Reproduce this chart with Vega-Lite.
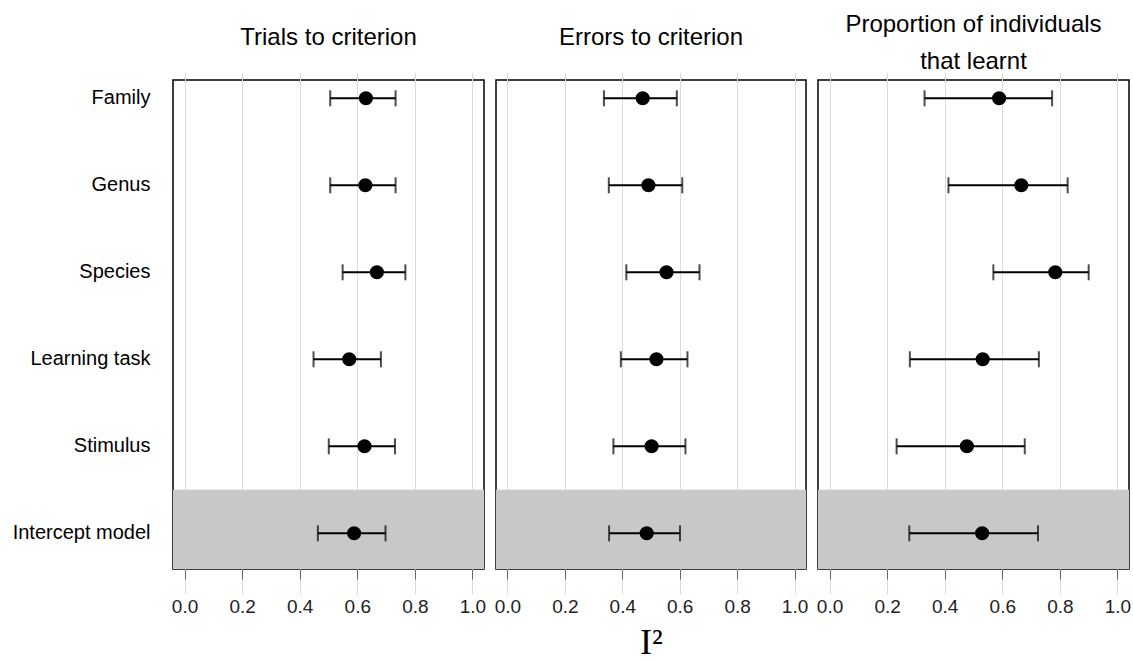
{
  "$schema": "https://vega.github.io/schema/vega-lite/v6.json",
  "padding": {"left": 11, "right": 0, "top": 12, "bottom": 0},
  "background": "white",
  "datasets": {
    "d": [
      {"panel": "T", "term": "Family", "est": 0.630, "lo": 0.506, "hi": 0.733},
      {"panel": "T", "term": "Genus", "est": 0.628, "lo": 0.506, "hi": 0.733},
      {"panel": "T", "term": "Species", "est": 0.668, "lo": 0.549, "hi": 0.767},
      {"panel": "T", "term": "Learning task", "est": 0.572, "lo": 0.448, "hi": 0.682},
      {"panel": "T", "term": "Stimulus", "est": 0.625, "lo": 0.501, "hi": 0.731},
      {"panel": "T", "term": "Intercept model", "est": 0.589, "lo": 0.463, "hi": 0.698},
      {"panel": "E", "term": "Family", "est": 0.471, "lo": 0.336, "hi": 0.590},
      {"panel": "E", "term": "Genus", "est": 0.491, "lo": 0.353, "hi": 0.609},
      {"panel": "E", "term": "Species", "est": 0.554, "lo": 0.414, "hi": 0.669},
      {"panel": "E", "term": "Learning task", "est": 0.519, "lo": 0.395, "hi": 0.627},
      {"panel": "E", "term": "Stimulus", "est": 0.502, "lo": 0.369, "hi": 0.620},
      {"panel": "E", "term": "Intercept model", "est": 0.485, "lo": 0.354, "hi": 0.601},
      {"panel": "P", "term": "Family", "est": 0.589, "lo": 0.330, "hi": 0.773},
      {"panel": "P", "term": "Genus", "est": 0.666, "lo": 0.413, "hi": 0.827},
      {"panel": "P", "term": "Species", "est": 0.784, "lo": 0.569, "hi": 0.900},
      {"panel": "P", "term": "Learning task", "est": 0.532, "lo": 0.279, "hi": 0.727},
      {"panel": "P", "term": "Stimulus", "est": 0.477, "lo": 0.233, "hi": 0.678},
      {"panel": "P", "term": "Intercept model", "est": 0.530, "lo": 0.277, "hi": 0.724}
    ]
  },
  "data": {"name": "d"},
  "spacing": 12,
  "bounds": "flush",
  "hconcat": [
    {
      "width": 311, "height": 489,
      "title": {"text": "Trials to criterion", "offset": 30},
      "transform": [{"filter": "datum.panel === 'T'"}],
      "encoding": {
        "y": {"field": "term", "type": "nominal", "sort": ["Family", "Genus", "Species", "Learning task", "Stimulus", "Intercept model"], "scale": {"type": "band", "range": [-25.2, 496.8], "paddingInner": 0, "paddingOuter": 0}, "axis": {"title": null}}
      },
      "layer": [
        {"transform": [{"filter": "datum.term === 'Intercept model'"}], "mark": {"type": "rect", "color": "#c8c8c8", "clip": true},
         "encoding": {"x": {"datum": -0.04, "type": "quantitative", "scale": {"domain": [-0.04, 1.04], "nice": false, "zero": false}, "axis": {"values": [0, 0.2, 0.4, 0.6, 0.8, 1], "format": ".1f", "title": null}}, "x2": {"datum": 1.04}}},
        {"mark": {"type": "rule", "color": "black", "strokeWidth": 2},
         "encoding": {"x": {"field": "lo", "type": "quantitative", "title": null}, "x2": {"field": "hi"}}},
        {"mark": {"type": "tick", "color": "black", "thickness": 2, "size": 16},
         "encoding": {"x": {"field": "lo", "type": "quantitative", "title": null}}},
        {"mark": {"type": "tick", "color": "black", "thickness": 2, "size": 16},
         "encoding": {"x": {"field": "hi", "type": "quantitative", "title": null}}},
        {"mark": {"type": "circle", "color": "black", "size": 200, "opacity": 1},
         "encoding": {"x": {"field": "est", "type": "quantitative", "title": null}}}
      ]
    },
    {
      "width": 310, "height": 489,
      "title": {"text": "Errors to criterion", "offset": 30},
      "transform": [{"filter": "datum.panel === 'E'"}],
      "encoding": {
        "y": {"field": "term", "type": "nominal", "sort": ["Family", "Genus", "Species", "Learning task", "Stimulus", "Intercept model"], "scale": {"type": "band", "range": [-25.2, 496.8], "paddingInner": 0, "paddingOuter": 0}, "axis": null}
      },
      "layer": [
        {"transform": [{"filter": "datum.term === 'Intercept model'"}], "mark": {"type": "rect", "color": "#c8c8c8", "clip": true},
         "encoding": {"x": {"datum": -0.04, "type": "quantitative", "scale": {"domain": [-0.04, 1.04], "nice": false, "zero": false}, "axis": {"values": [0, 0.2, 0.4, 0.6, 0.8, 1], "format": ".1f", "title": "I²"}}, "x2": {"datum": 1.04}}},
        {"mark": {"type": "rule", "color": "black", "strokeWidth": 2},
         "encoding": {"x": {"field": "lo", "type": "quantitative", "title": "I²"}, "x2": {"field": "hi"}}},
        {"mark": {"type": "tick", "color": "black", "thickness": 2, "size": 16},
         "encoding": {"x": {"field": "lo", "type": "quantitative", "title": "I²"}}},
        {"mark": {"type": "tick", "color": "black", "thickness": 2, "size": 16},
         "encoding": {"x": {"field": "hi", "type": "quantitative", "title": "I²"}}},
        {"mark": {"type": "circle", "color": "black", "size": 200, "opacity": 1},
         "encoding": {"x": {"field": "est", "type": "quantitative", "title": "I²"}}}
      ]
    },
    {
      "width": 311, "height": 489,
      "title": {"text": ["Proportion of individuals", "that learnt"], "offset": 6, "lineHeight": 37},
      "transform": [{"filter": "datum.panel === 'P'"}],
      "encoding": {
        "y": {"field": "term", "type": "nominal", "sort": ["Family", "Genus", "Species", "Learning task", "Stimulus", "Intercept model"], "scale": {"type": "band", "range": [-25.2, 496.8], "paddingInner": 0, "paddingOuter": 0}, "axis": null}
      },
      "layer": [
        {"transform": [{"filter": "datum.term === 'Intercept model'"}], "mark": {"type": "rect", "color": "#c8c8c8", "clip": true},
         "encoding": {"x": {"datum": -0.04, "type": "quantitative", "scale": {"domain": [-0.04, 1.04], "nice": false, "zero": false}, "axis": {"values": [0, 0.2, 0.4, 0.6, 0.8, 1], "format": ".1f", "title": null}}, "x2": {"datum": 1.04}}},
        {"mark": {"type": "rule", "color": "black", "strokeWidth": 2},
         "encoding": {"x": {"field": "lo", "type": "quantitative", "title": null}, "x2": {"field": "hi"}}},
        {"mark": {"type": "tick", "color": "black", "thickness": 2, "size": 16},
         "encoding": {"x": {"field": "lo", "type": "quantitative", "title": null}}},
        {"mark": {"type": "tick", "color": "black", "thickness": 2, "size": 16},
         "encoding": {"x": {"field": "hi", "type": "quantitative", "title": null}}},
        {"mark": {"type": "circle", "color": "black", "size": 200, "opacity": 1},
         "encoding": {"x": {"field": "est", "type": "quantitative", "title": null}}}
      ]
    }
  ],
  "config": {
    "font": "Liberation Sans",
    "view": {"stroke": "black", "strokeWidth": 1.5},
    "axisX": {"domain": false, "grid": true, "gridColor": "#dcdcdc", "gridWidth": 1, "ticks": true, "tickColor": "#666666", "tickSize": 10, "tickWidth": 1, "labelFontSize": 19, "labelColor": "#222222", "labelPadding": 18, "labelOverlap": false, "labelFlush": false, "titleFont": "Liberation Serif", "titleFontSize": 36, "titleFontWeight": "normal", "titlePadding": 9, "titleColor": "black"},
    "axisY": {"domain": false, "grid": false, "ticks": false, "labelFontSize": 20, "labelColor": "black", "labelPadding": 23},
    "title": {"font": "Liberation Sans", "fontSize": 24, "fontWeight": "normal", "color": "black"}
  }
}
